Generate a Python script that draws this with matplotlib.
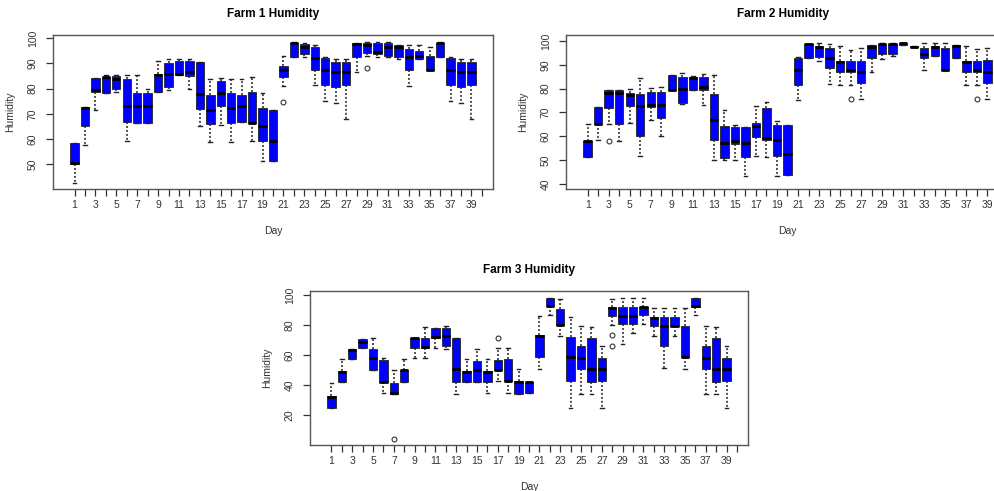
import matplotlib
matplotlib.use("Agg")
import matplotlib.pyplot as plt

plt.rcParams["font.family"] = ["Liberation Sans", "DejaVu Sans"]

days = list(range(1, 40))
tick_days = list(range(1, 41))
tick_labels = [str(d) if d % 2 == 1 else "" for d in tick_days]

# Farm 1 box statistics (whisker low, Q1, median, Q3, whisker high)
f1_lo = [42.5, 57.7, 71.6, 78.2, 78.8, 59.0, 66.3, 66.3, 78.8, 79.5, 85.4, 79.8, 65.2,
         58.6, 65.6, 58.6, 66.8, 59.0, 51.3, 51.3, 81.1, 92.5, 92.5, 81.5, 74.9, 74.2,
         67.9, 86.4, 93.0, 92.5, 92.5, 91.7, 81.1, 91.7, 87.2, 92.5, 74.9, 74.2, 67.9]
f1_q1 = [50.1, 65.2, 78.8, 78.2, 79.8, 66.8, 66.3, 66.3, 78.8, 80.6, 85.4, 85.0, 71.8,
         65.9, 72.9, 66.3, 66.8, 66.5, 59.0, 51.3, 84.5, 92.5, 93.8, 87.4, 81.5, 80.8,
         81.5, 92.5, 94.3, 93.8, 93.0, 92.5, 87.4, 91.7, 87.2, 92.5, 81.5, 80.8, 81.5]
f1_med = [50.4, 72.4, 79.5, 84.5, 83.9, 72.9, 72.9, 72.9, 85.6, 85.8, 85.8, 86.5, 77.8,
          71.6, 78.2, 72.2, 73.1, 66.5, 65.2, 59.3, 87.4, 98.0, 96.7, 92.1, 87.4, 86.4,
          86.4, 97.8, 97.4, 94.7, 96.7, 96.7, 92.5, 93.0, 87.4, 98.0, 87.4, 86.4, 86.4]
f1_q3 = [58.3, 72.6, 84.1, 84.8, 85.0, 83.9, 78.2, 78.2, 85.8, 90.3, 91.0, 91.0, 90.7,
         77.5, 83.2, 78.2, 77.5, 78.8, 72.2, 71.6, 89.0, 98.3, 97.8, 96.7, 92.1, 90.7,
         90.7, 98.0, 98.0, 98.3, 98.3, 97.4, 95.6, 95.1, 93.0, 98.3, 92.1, 90.7, 90.7]
f1_hi = [58.3, 72.6, 84.1, 85.4, 85.4, 85.4, 85.4, 79.8, 91.0, 91.7, 91.7, 91.7, 90.7,
         83.7, 84.1, 83.7, 83.7, 84.5, 78.4, 71.6, 93.0, 98.7, 98.3, 97.4, 92.5, 91.7,
         91.7, 98.0, 98.7, 98.7, 98.7, 97.4, 97.4, 97.4, 96.7, 98.7, 92.5, 91.7, 91.7]
f1_out = {21: [74.6], 29: [88.1]}

# Farm 2
f2_lo = [51.2, 58.2, 65.2, 58.0, 65.7, 51.7, 66.9, 59.9, 79.4, 73.6, 79.4, 73.1, 50.1,
         50.1, 50.1, 43.1, 51.7, 51.2, 43.4, 43.8, 75.0, 92.7, 91.7, 82.0, 81.5, 81.5,
         75.5, 87.1, 92.3, 93.7, 98.3, 97.3, 87.8, 93.7, 87.8, 92.7, 81.5, 81.5, 75.5]
f2_q1 = [51.2, 65.0, 71.7, 65.2, 72.7, 59.9, 72.2, 67.6, 79.4, 74.1, 79.4, 79.2, 58.5,
         50.8, 56.8, 51.2, 59.6, 58.2, 51.7, 43.8, 81.5, 92.7, 93.1, 88.5, 87.1, 87.1,
         82.2, 92.7, 94.5, 94.5, 98.3, 97.3, 92.7, 93.7, 87.8, 92.7, 87.1, 87.1, 82.2]
f2_med = [57.8, 65.2, 78.0, 78.3, 77.3, 72.7, 73.1, 73.1, 79.4, 79.7, 84.6, 80.8, 66.9,
          57.3, 57.8, 57.3, 64.3, 59.2, 58.2, 52.6, 87.8, 98.6, 97.3, 92.7, 91.3, 87.8,
          87.1, 97.3, 98.7, 98.7, 99.0, 97.6, 94.5, 97.6, 87.8, 97.9, 91.3, 87.8, 86.9]
f2_q3 = [58.0, 72.4, 79.4, 79.2, 78.3, 77.8, 78.7, 78.7, 85.7, 84.8, 85.0, 84.8, 77.8,
         64.1, 63.8, 63.8, 65.5, 71.7, 64.8, 64.8, 92.7, 98.6, 97.9, 96.9, 91.7, 91.7,
         91.7, 98.3, 98.7, 98.7, 99.0, 97.9, 96.9, 97.9, 96.9, 98.3, 91.7, 91.7, 92.0]
f2_hi = [65.2, 72.4, 79.4, 79.2, 79.7, 84.3, 80.1, 80.6, 85.7, 86.7, 85.3, 86.2, 85.7,
         71.0, 64.8, 63.8, 72.7, 74.5, 66.2, 64.8, 93.4, 98.6, 99.3, 98.6, 97.9, 96.2,
         96.9, 98.3, 99.3, 99.3, 99.3, 97.9, 99.3, 99.3, 99.3, 98.3, 97.9, 96.5, 96.9]
f2_out = {3: [58.0], 26: [75.5], 38: [75.5]}

# Farm 3
f3_lo = [24.4, 41.8, 57.3, 64.4, 50.0, 34.4, 33.8, 42.2, 57.8, 57.8, 64.9, 64.0, 33.8,
         41.8, 41.8, 34.4, 42.7, 34.4, 33.8, 34.4, 50.7, 86.7, 72.9, 24.9, 33.8, 33.8,
         24.9, 80.0, 67.1, 74.4, 80.4, 72.9, 51.1, 72.9, 50.7, 86.7, 33.8, 33.8, 24.9]
f3_q1 = [24.4, 41.8, 57.3, 64.4, 50.0, 42.2, 33.8, 42.2, 64.4, 64.9, 71.6, 66.2, 42.2,
         41.8, 41.8, 41.8, 50.0, 42.7, 33.8, 34.4, 58.9, 92.9, 80.0, 42.7, 50.7, 42.2,
         42.7, 86.2, 80.4, 80.4, 86.7, 79.6, 66.2, 79.6, 58.9, 92.2, 50.7, 42.2, 42.7]
f3_med = [32.2, 48.9, 63.3, 68.4, 57.8, 42.2, 34.4, 50.0, 71.1, 65.6, 72.2, 72.9, 50.7,
          48.9, 50.0, 48.9, 50.0, 42.7, 42.2, 41.8, 72.9, 92.9, 80.0, 58.9, 58.2, 50.7,
          50.7, 91.6, 86.2, 86.2, 92.2, 84.9, 79.6, 79.6, 58.9, 92.9, 58.2, 50.7, 50.7]
f3_q3 = [32.9, 49.3, 63.8, 70.7, 63.8, 56.7, 41.1, 50.0, 71.6, 71.1, 78.2, 78.2, 71.1,
         49.3, 56.0, 49.3, 56.7, 57.3, 42.7, 41.8, 73.3, 98.2, 90.7, 72.2, 66.2, 71.1,
         57.8, 92.2, 92.2, 92.2, 92.2, 85.6, 85.6, 85.6, 79.6, 98.2, 66.2, 71.1, 57.8]
f3_hi = [41.1, 57.3, 63.8, 70.7, 71.1, 57.8, 50.0, 57.3, 71.6, 78.9, 78.2, 79.6, 71.1,
         57.3, 64.0, 57.3, 64.4, 64.9, 50.7, 41.8, 86.0, 98.2, 97.3, 85.6, 79.6, 78.9,
         66.2, 97.3, 97.8, 97.8, 97.8, 91.6, 91.1, 91.6, 91.6, 98.2, 79.6, 78.9, 66.2]
f3_out = {7: [4.0], 17: [71.1], 28: [73.3, 66.2]}


def make_stats(lo, q1, med, q3, hi, out):
    stats = []
    for i, d in enumerate(days):
        stats.append({"whislo": lo[i], "q1": q1[i], "med": med[i], "q3": q3[i],
                      "whishi": hi[i], "fliers": out.get(d, [])})
    return stats


def draw_panel(ax, stats, title, yticks, ylim):
    ax.bxp(stats, positions=days, widths=0.8, patch_artist=True, capwidths=0.35,
           boxprops=dict(facecolor="#0000ff", edgecolor="#222222", linewidth=0.6),
           medianprops=dict(color="black", linewidth=2.0),
           whiskerprops=dict(color="#222222", linewidth=1.1, linestyle=(0, (1.3, 1.3))),
           capprops=dict(color="#222222", linewidth=1.0),
           flierprops=dict(marker="o", markerfacecolor="none", markeredgecolor="#333333",
                           markersize=3.5, markeredgewidth=0.8))
    ax.set_xlim(-1.06, 41.06)
    ax.set_ylim(*ylim)
    ax.set_xticks(tick_days)
    ax.set_xticklabels(tick_labels)
    ax.set_yticks(yticks)
    ax.set_yticklabels([str(v) for v in yticks], rotation=90, va="center")
    ax.tick_params(axis="x", length=5, width=0.9, pad=3, labelsize=7.5,
                   colors="#333333")
    ax.tick_params(axis="y", length=5, width=0.9, pad=6, labelsize=7.5,
                   colors="#333333")
    for sp in ax.spines.values():
        sp.set_color("#555555")
        sp.set_linewidth(1.0)
    ax.set_title(title, fontsize=8.5, fontweight="bold", pad=13)
    ax.set_xlabel("Day", fontsize=7.5, color="#333333")
    ax.set_ylabel("Humidity", fontsize=7.5, color="#333333")
    ax.xaxis.set_label_coords(0.5, -0.24)
    ax.yaxis.set_label_coords(-0.086, 0.5)


fig = plt.figure(figsize=(9.95, 4.91), dpi=100)

ax1 = fig.add_axes([53 / 995, 1 - 189 / 491, 440 / 995, 154 / 491])
ax2 = fig.add_axes([566 / 995, 1 - 189 / 491, 443 / 995, 154 / 491])
ax3 = fig.add_axes([310 / 995, 1 - 445 / 491, 438 / 995, 154 / 491])

draw_panel(ax1, make_stats(f1_lo, f1_q1, f1_med, f1_q3, f1_hi, f1_out),
           "Farm 1 Humidity", [50, 60, 70, 80, 90, 100], (40.1, 101.3))
draw_panel(ax2, make_stats(f2_lo, f2_q1, f2_med, f2_q3, f2_hi, f2_out),
           "Farm 2 Humidity", [40, 50, 60, 70, 80, 90, 100], (37.8, 102.5))
draw_panel(ax3, make_stats(f3_lo, f3_q1, f3_med, f3_q3, f3_hi, f3_out),
           "Farm 3 Humidity", [20, 40, 60, 80, 100], (0.0, 102.7))
ax2.set_title("Farm 2 Humidity", fontsize=8.5, fontweight="bold", pad=13, x=0.49)

fig.savefig("out.png", dpi=100)
